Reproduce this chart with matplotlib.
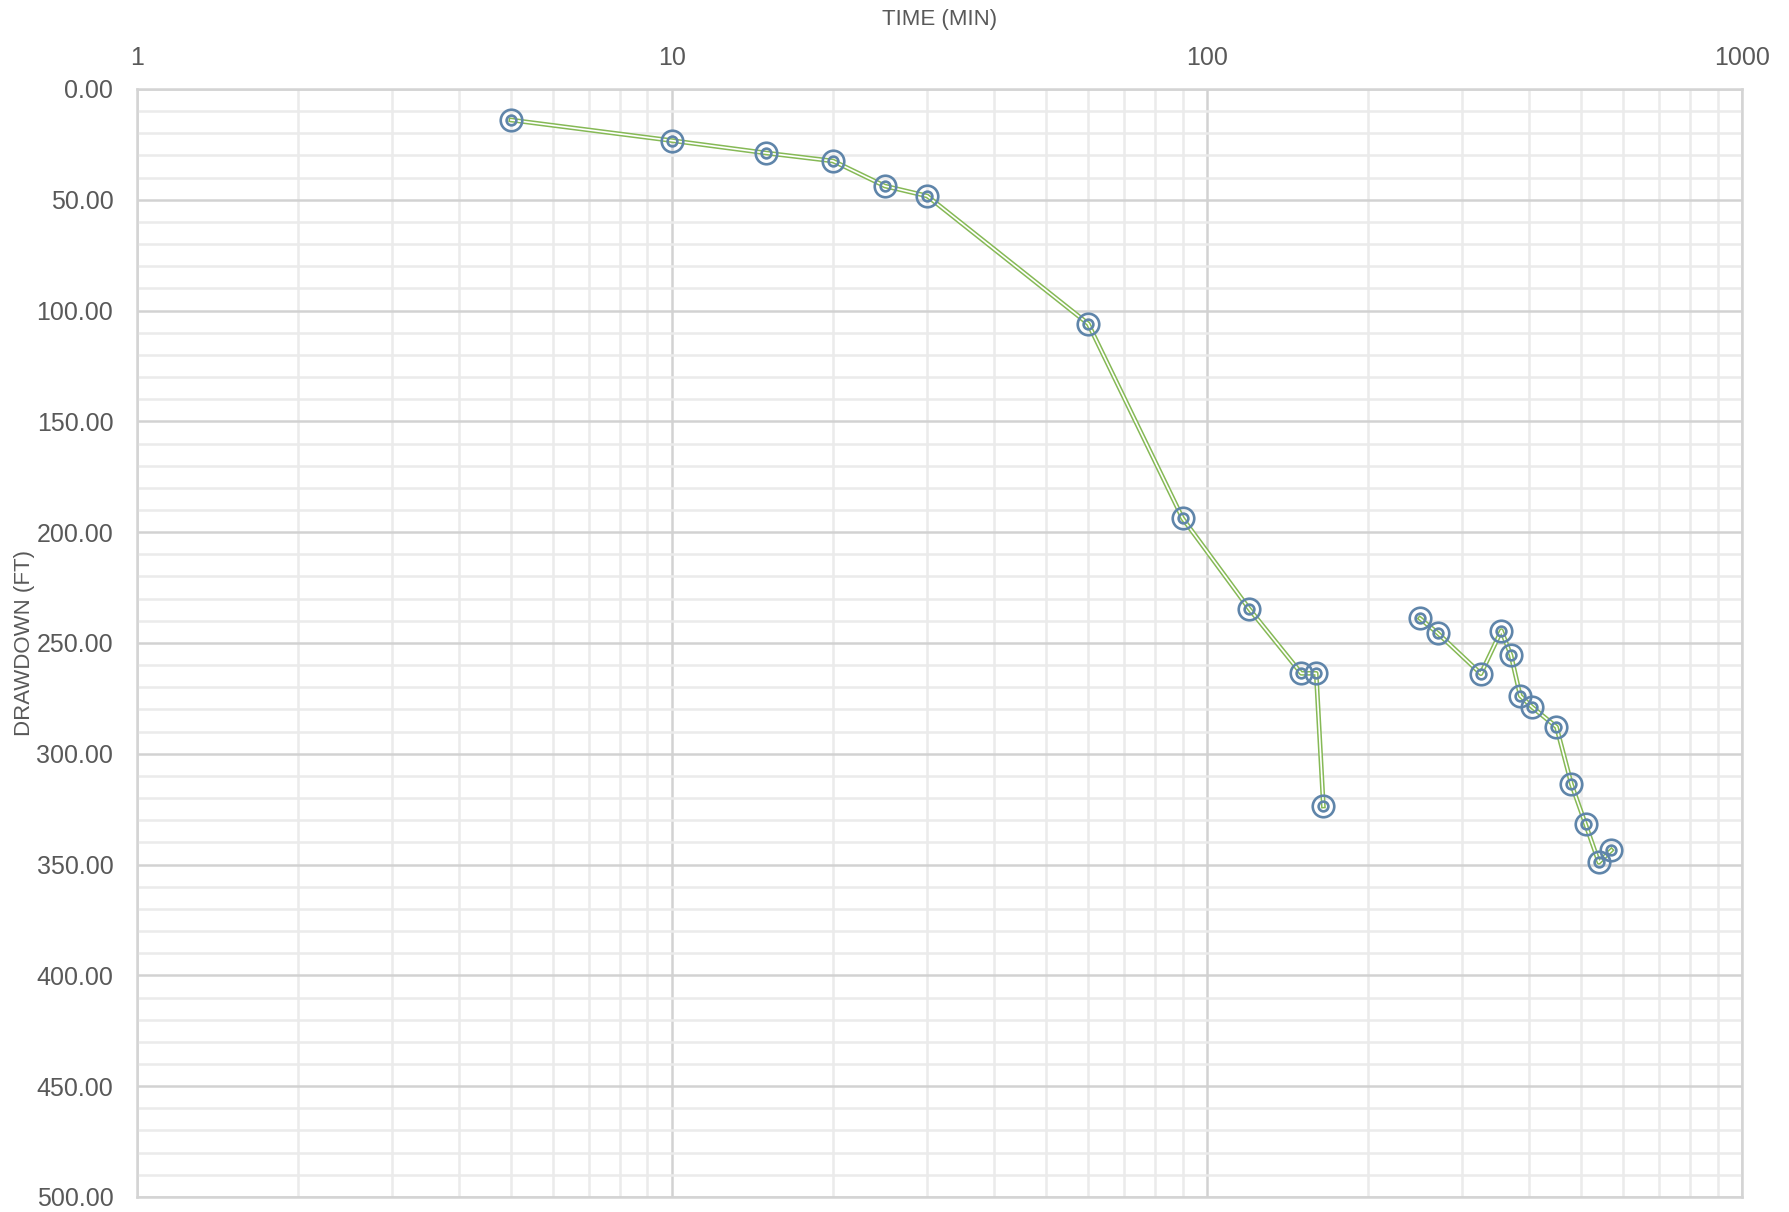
# drawdown vs time, semi-log plot of a pumping test
import matplotlib.pyplot as plt
from matplotlib.ticker import FixedLocator, NullFormatter, FuncFormatter

# first pumping segment
time_a = [5, 10, 15, 20, 25, 30, 60, 90, 120, 150, 160, 165]
drawdown_a = [14.0, 23.3, 28.9, 32.5, 43.8, 48.3, 106.0, 193.7, 234.7, 263.7, 263.7, 323.6]

# second pumping segment
time_b = [250, 270, 325, 355, 370, 385, 405, 450, 480, 510, 540, 570]
drawdown_b = [238.9, 245.6, 263.9, 244.4, 255.6, 273.8, 278.9, 287.9, 313.8, 331.8, 349.0, 343.5]

x_ticks = [1, 10, 100, 1000]
y_ticks = [0, 50, 100, 150, 200, 250, 300, 350, 400, 450, 500]

plt.rcParams['font.family'] = ['Liberation Sans Narrow', 'Liberation Sans', 'DejaVu Sans']

fig = plt.figure(figsize=(17.9, 12.12), dpi=100)
ax = fig.add_axes([0.0765, 0.0124, 0.8967, 0.9142])

line_green = '#86b956'
mark_blue = '#5f85aa'
text_grey = '#595959'

for t, s in [(time_a, drawdown_a), (time_b, drawdown_b)]:
    # double line: green stroke with a white core
    ax.plot(t, s, color=line_green, lw=3.4, zorder=3)
    ax.plot(t, s, color='white', lw=1.2, zorder=4)
    # double circle markers
    ax.plot(t, s, ls='none', marker='o', ms=15.5, mfc='none', mec=mark_blue, mew=1.9, zorder=5)
    ax.plot(t, s, ls='none', marker='o', ms=7.0, mfc='none', mec=mark_blue, mew=1.9, zorder=5)

ax.set_xscale('log')
ax.set_xlim(1, 1000)
ax.set_ylim(500, 0)

ax.xaxis.set_major_locator(FixedLocator(x_ticks))
ax.xaxis.set_minor_locator(FixedLocator([m * d for d in (1, 10, 100) for m in range(2, 10)]))
ax.xaxis.set_major_formatter(FuncFormatter(lambda v, p: '%d' % v))
ax.xaxis.set_minor_formatter(NullFormatter())
ax.yaxis.set_major_locator(FixedLocator(y_ticks))
ax.yaxis.set_minor_locator(FixedLocator(range(0, 501, 10)))
ax.yaxis.set_major_formatter(FuncFormatter(lambda v, p: '%.2f' % v))

ax.xaxis.tick_top()
ax.xaxis.set_label_position('top')
ax.tick_params(which='both', length=0)
ax.tick_params(axis='x', which='major', pad=14, labelsize=18, labelcolor=text_grey)
ax.tick_params(axis='y', which='major', pad=17, labelsize=18, labelcolor=text_grey)

ax.grid(which='major', color='#d2d2d2', lw=1.8, zorder=1)
ax.grid(which='minor', color='#ebebeb', lw=1.8, zorder=0)
ax.set_axisbelow(True)

for side in ['left', 'top', 'right', 'bottom']:
    ax.spines[side].set_color('#d4d4d4')
    ax.spines[side].set_linewidth(1.8)

ax.set_xlabel('TIME (MIN)', fontsize=16, color=text_grey)
ax.set_ylabel('DRAWDOWN (FT)', fontsize=16, color=text_grey)
ax.xaxis.label.set_va('center')
ax.yaxis.label.set_va('center')
ax.xaxis.set_label_coords(0.5, 1.0 + (89 - 19.5) / 1108)
ax.yaxis.set_label_coords(-(137 - 25) / 1605, 0.5)

fig.savefig('out.png', dpi=100)
